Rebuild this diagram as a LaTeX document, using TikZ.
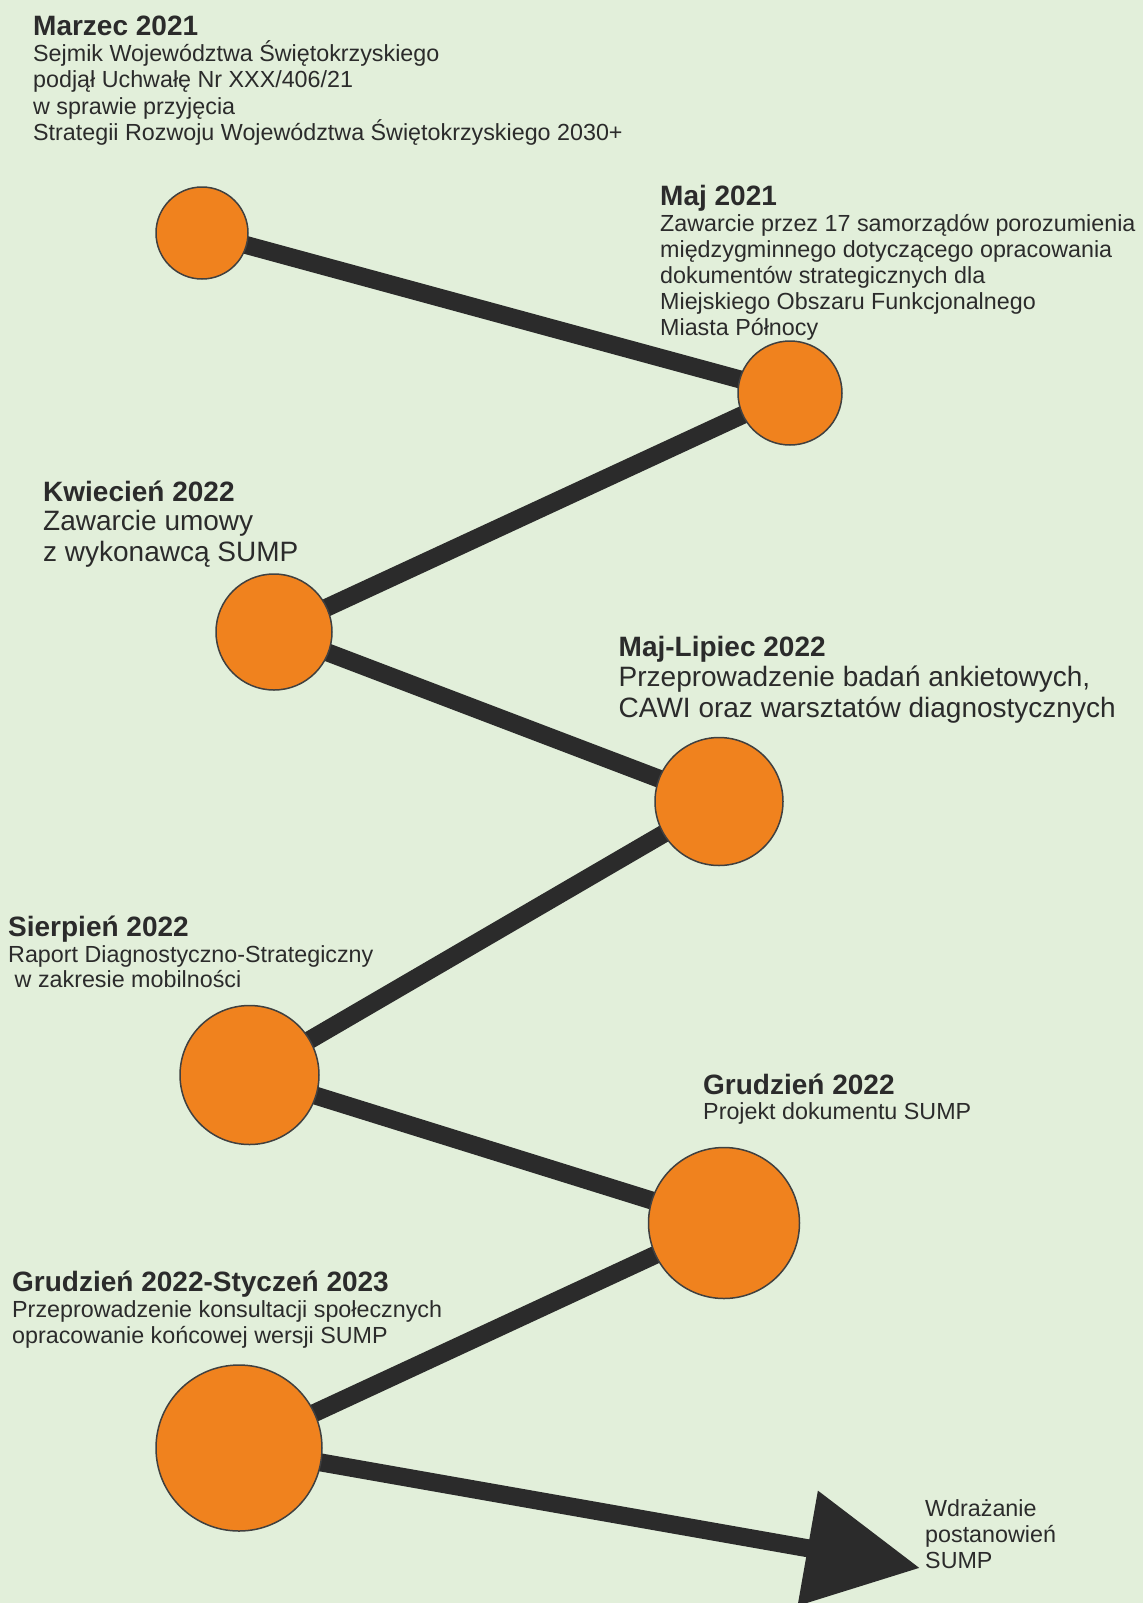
\documentclass[tikz,border=0pt]{standalone}
\usepackage{fontspec}
\setmainfont{Liberation Sans}
\usetikzlibrary{arrows.meta}
\definecolor{bgc}{HTML}{E2EFDA}
\definecolor{orng}{HTML}{F0821E}
\definecolor{dk}{HTML}{2B2B2B}
\definecolor{rim}{HTML}{404040}
\pgfdeclarelayer{back}
\pgfdeclarelayer{links}
\pgfsetlayers{back,links,main}
\tikzset{
  evt/.style={circle, fill=orng, draw=rim, line width=1.5pt, inner sep=0pt, minimum size=#1},
  ttl/.style={anchor=base west, inner sep=0pt, text=dk, font=\fontsize{28}{30}\selectfont\bfseries},
  bod/.style={anchor=base west, inner sep=0pt, text=dk, align=left, font=\fontsize{23.3}{26.4}\selectfont},
  bodl/.style={anchor=base west, inner sep=0pt, text=dk, align=left, font=\fontsize{28}{31}\selectfont},
  link/.style={draw=dk, line width=18pt},
}
\begin{document}
\begin{tikzpicture}[x=1pt,y=-1pt]
\begin{pgfonlayer}{back}
\fill[bgc] (0,0) rectangle (1143,1603);
\end{pgfonlayer}
\useasboundingbox (0,0) rectangle (1143,1603);

% circles
\node[evt=92pt]  (c1) at (202,233) {};
\node[evt=104pt] (c2) at (790,393) {};
\node[evt=116pt] (c3) at (274,632) {};
\node[evt=128pt] (c4) at (719,801.5) {};
\node[evt=139pt] (c5) at (249.5,1075) {};
\node[evt=151pt] (c6) at (724,1223) {};
\node[evt=166pt] (c7) at (239,1448) {};
\coordinate (tip) at (920,1568);

% connectors
\begin{pgfonlayer}{links}
\draw[link] (c1.center) -- (c2.center) -- (c3.center) -- (c4.center) -- (c5.center) -- (c6.center) -- (c7.center);
\draw[link, -{Triangle[length=114pt,width=112pt]}] (c7.center) -- (tip);
\end{pgfonlayer}

% texts (body nodes are anchored at the baseline of their last line)
\node[ttl] (t1) at (33,35.6) {Marzec 2021};
\node[bod] (b1) at (33,140.4) {Sejmik Województwa Świętokrzyskiego\\podjął Uchwałę Nr XXX/406/21\\w sprawie przyjęcia\\Strategii Rozwoju Województwa Świętokrzyskiego 2030+};

\node[ttl] (t2) at (660,205) {Maj 2021};
\node[bod, font=\fontsize{23.3}{26}\selectfont] (b2) at (660,335) {Zawarcie przez 17 samorządów porozumienia\\międzygminnego dotyczącego opracowania\\dokumentów strategicznych dla\\Miejskiego Obszaru Funkcjonalnego\\Miasta Północy};

\node[ttl] (t3) at (43,501) {Kwiecień 2022};
\node[bodl] (b3) at (43,561) {Zawarcie umowy\\z wykonawcą SUMP};

\node[ttl] (t4) at (618.5,656) {Maj-Lipiec 2022};
\node[bodl] (b4) at (618.5,717) {Przeprowadzenie badań ankietowych,\\CAWI oraz warsztatów diagnostycznych};

\node[ttl] (t5) at (8,936) {Sierpień 2022};
\node[bod, font=\fontsize{23.3}{25.6}\selectfont] (b5) at (8,987.6) {Raport Diagnostyczno-Strategiczny\\\hspace{0.28em}w zakresie mobilności};

\node[ttl] (t6) at (703,1094) {Grudzień 2022};
\node[bod] (b6) at (703,1119) {Projekt dokumentu SUMP};

\node[ttl] (t7) at (12,1291) {Grudzień 2022-Styczeń 2023};
\node[bod] (b7) at (12,1343.4) {Przeprowadzenie konsultacji społecznych\\opracowanie końcowej wersji SUMP};

\node[bod, font=\fontsize{23.3}{26}\selectfont] (w) at (925,1568) {Wdrażanie\\postanowień\\SUMP};
\end{tikzpicture}
\end{document}
